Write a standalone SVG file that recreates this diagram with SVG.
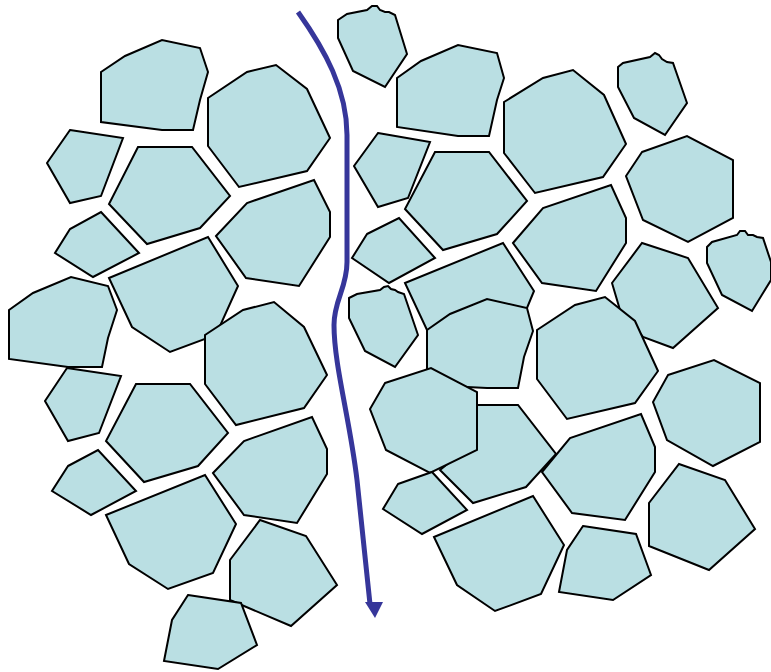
<svg xmlns="http://www.w3.org/2000/svg" width="771" height="672" viewBox="0 0 771 672">
<style>
.c{fill:#badfe3;stroke:#000;stroke-width:2;stroke-linejoin:miter}
.a{fill:none;stroke:#36369a;stroke-width:5}
</style>
<rect width="771" height="672" fill="#fff"/>
<g id="cells">
<polygon class="c" points="101,72 125,56 162,40 200,48 208,72 200,100 193,130 162,130 101,122"/>
<polygon class="c" points="70,130 123,138 101,196 70,203 47,163"/>
<polygon class="c" points="138,147 192,147 230,196 200,228 147,244 109,204"/>
<polygon class="c" points="208,98 247,72 276,65 307,89 330,138 307,171 239,187 208,146"/>
<polygon class="c" points="216,236 247,203 314,180 330,212 330,237 299,286 246,278"/>
<polygon class="c" points="101,212 139,253 93,277 55,253 70,229"/>
<polygon class="c" points="109,278 208,237 238,286 220,326 205,339 170,352 132,327"/>
<polygon class="c" points="205,335 243,310 274,302 304,327 327,375 304,408 236,425 205,384"/>
<polygon class="c" points="9,310 33,293 71,277 108,286 117,310 108,338 102,367 68,367 9,359"/>
<polygon class="c" points="67,368 121,376 99,433 68,441 45,401"/>
<polygon class="c" points="136,384 190,384 228,433 198,466 144,482 106,441"/>
<polygon class="c" points="213,473 244,441 312,417 327,449 327,474 297,523 244,515"/>
<polygon class="c" points="68,466 98,450 136,491 91,515 52,491"/>
<polygon class="c" points="106,515 205,475 236,524 213,573 168,589 129,564"/>
<polygon class="c" points="260,520 306,536 337,585 291,626 230,600 230,560"/>
<polygon class="c" points="188,595 241,603 257,645 218,669 164,661 172,620"/>
<polygon class="c" points="338,20 347,14 367,10 372,6 377,6 380,10 385,12 389,12 395,15 407,54 385,87 353,71 338,38"/>
<polygon class="c" points="397,78 421,61 458,45 497,53 504,78 497,100 489,136 458,136 397,127"/>
<polygon class="c" points="504,102 543,78 573,70 604,95 626,144 603,177 535,193 504,153"/>
<polygon class="c" points="618,67 623,63 650,57 655,53 659,55 662,59 667,62 673,63 687,103 665,135 634,118 618,87"/>
<polygon class="c" points="378,133 430,142 408,198 378,207 354,166"/>
<polygon class="c" points="435,152 489,152 527,201 497,234 443,250 405,209"/>
<polygon class="c" points="513,243 543,208 611,185 626,218 626,243 596,291 542,283"/>
<polygon class="c" points="642,152 687,136 733,160 733,218 688,242 643,220 626,176"/>
<polygon class="c" points="367,234 399,218 435,258 389,283 352,258"/>
<polygon class="c" points="349,298 357,294 380,290 384,287 388,286 391,289 395,290 398,292 404,294 418,335 395,367 365,351 349,318"/>
<polygon class="c" points="405,283 503,243 534,291 527,308 480,330 427,330"/>
<polygon class="c" points="427,330 450,314 487,299 527,308 533,331 524,357 518,388 487,388 427,385"/>
<polygon class="c" points="612,283 642,243 688,258 718,308 673,348 643,337 620,310"/>
<polygon class="c" points="537,330 575,305 605,297 635,321 658,371 635,403 567,419 537,379"/>
<polygon class="c" points="707,247 712,242 737,235 740,231 745,231 748,235 753,235 757,237 763,238 771,262 771,280 752,311 722,295 707,263"/>
<polygon class="c" points="668,375 714,360 760,383 760,442 713,466 667,440 653,402"/>
<polygon class="c" points="477,405 518,405 556,454 526,487 473,503 440,470 477,440"/>
<polygon class="c" points="385,383 431,368 477,392 477,450 430,473 386,450 370,409"/>
<polygon class="c" points="542,472 570,438 641,414 655,447 655,472 625,520 572,513"/>
<polygon class="c" points="398,484 432,472 467,510 422,534 383,509"/>
<polygon class="c" points="434,537 533,496 564,545 541,594 495,611 457,585"/>
<polygon class="c" points="583,526 636,534 651,575 613,600 559,592 567,550"/>
<polygon class="c" points="679,464 725,480 755,529 709,570 649,546 649,503"/>
</g>
<g id="connectors">
<path class="a" d="M298,12 C325,50 347,90 347,135 L347,262 C347,288 334,300 334,325 C334,365 350,420 357,480 L370,604"/>
<polygon points="365,602 383,602 375,618" fill="#36369a"/>
</g>
</svg>
